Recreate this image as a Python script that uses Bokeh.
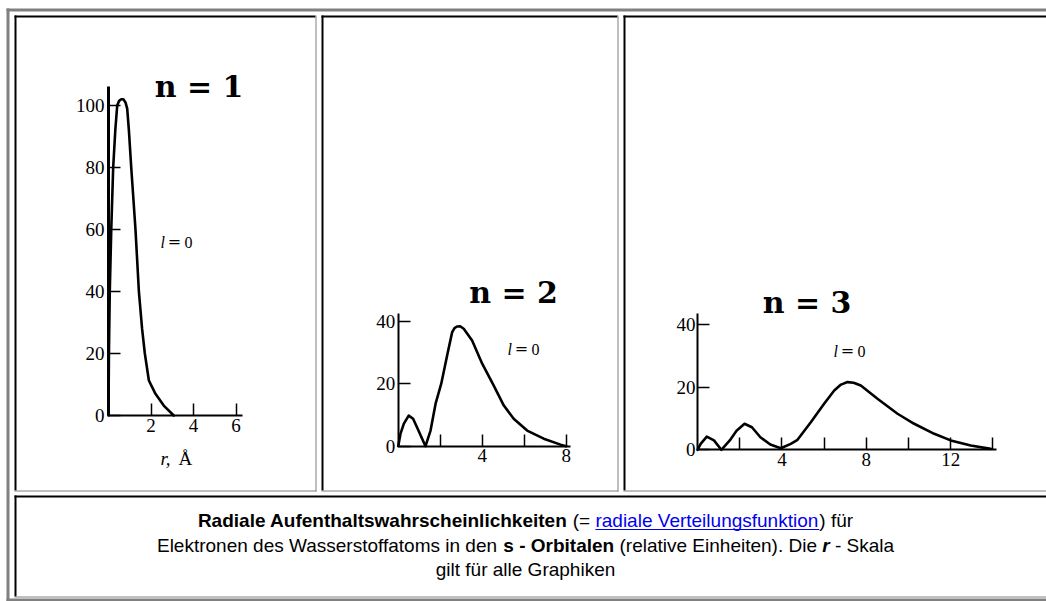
from bokeh.plotting import figure
from bokeh.models import Range1d, LinearAxis, FixedTicker
from bokeh.embed import file_html
from bokeh.resources import INLINE
from bokeh.core.properties import value

# ---------------- data ----------------
n1_r = [0.0, 0.02, 0.06, 0.13, 0.22, 0.32, 0.41, 0.5, 0.6, 0.7, 0.8, 0.88, 0.96, 1.07, 1.27, 1.43, 1.58, 1.71, 1.9, 2.21, 2.6, 3.07]
n1_p = [0, 20, 40, 60, 80, 92, 100, 101.5, 102, 102, 101, 99, 92, 80, 60, 40, 28, 20, 11.3, 7, 3.2, 0]

n2_r = [0.0, 0.11, 0.27, 0.5, 0.71, 0.9, 1.14, 1.3, 1.54, 1.78, 2.05, 2.33, 2.57, 2.68, 2.8, 2.95, 3.12, 3.52, 4.0, 4.55, 5.03, 5.5, 6.14, 6.93, 7.73, 8.0]
n2_p = [0, 4, 7.2, 9.8, 8.8, 6, 2.4, 0, 5, 13.6, 20, 29, 36.5, 37.8, 38.3, 38.4, 37.6, 33.8, 26.4, 19.4, 13, 8.8, 5, 2.4, 0.5, 0]

n3_r = [0.0, 0.15, 0.44, 0.78, 1.13, 1.53, 1.85, 2.23, 2.58, 2.98, 3.45, 3.95, 4.42, 4.74, 5.37, 6.0, 6.48, 6.8, 7.11, 7.4, 7.74, 8.53, 9.48, 10.27, 11.22, 12.0, 12.95, 13.9]
n3_p = [0, 1.9, 4.2, 3, 0, 3, 6.1, 8.3, 7.2, 4, 1.7, 0.5, 1.9, 3.2, 8.8, 14.7, 18.9, 20.8, 21.6, 21.4, 20.5, 16.3, 11.5, 8.3, 5.1, 3.0, 1.4, 0.3]

n1_xticks = [2, 4, 6]
n1_xlabels = ["2", "4", "6"]
n1_yticks = [0, 20, 40, 60, 80, 100]
n2_xticks = [2, 4, 6, 8]
n2_xlabels = ["", "4", "", "8"]
n2_yticks = [0, 20, 40]
n3_xticks = [2, 4, 6, 8, 10, 12, 14]
n3_xlabels = ["", "4", "", "8", "", "12", ""]
n3_yticks = [0, 20, 40]

titles = ["n = 1", "n = 2", "n = 3"]
l_label = ["l", "=", "0"]
x_axis_label = ["r,", "Å"]

caption_lines = [
    [("Radiale Aufenthaltswahrscheinlichkeiten", "b"), (" (= ", "n"),
     ("radiale Verteilungsfunktion", "link"), (") für", "n")],
    [("Elektronen des Wasserstoffatoms in den ", "n"), ("s - Orbitalen", "b"),
     (" (relative Einheiten). Die ", "n"), ("r", "bi"), (" - Skala", "n")],
    [("gilt für alle Graphiken", "n")],
]

# ---------------- layout constants ----------------
W, H = 1046, 601
OX, OY = 0, 0
GRAY = "#808080"
LINK = "#0000ee"
SERIF = "Liberation Serif"
MID = 0.36  # rendered baseline sits this many em below a 'middle' anchor

p = figure(width=W, height=H, x_range=Range1d(OX, OX + W), y_range=Range1d(OY + H, OY),
           output_backend="svg", toolbar_location=None, min_border=0,
           x_axis_type=None, y_axis_type=None)
p.outline_line_color = None
p.background_fill_color = "white"
p.border_fill_color = "white"


def band(l, r, t, b, color):
    p.quad(left=[l], right=[r], top=[t], bottom=[b], fill_color=color, line_color=None)


def label(x, baseline, txt, font, size, style="normal", align="left", color="black"):
    p.text(x=[x], y=[baseline - MID * size], text=[txt], text_font=value(font),
           text_font_style=style, text_font_size=f"{size}px", text_align=align,
           text_baseline="middle", text_color=color)


# outer table border
band(6, W, 8, 11, GRAY)
band(6, 9, 8, 601, GRAY)
band(6, W, 598, 601, GRAY)
# chart cells
for l, r in [(14, 315), (321, 617), (623, W)]:
    band(l, r, 15, 17, "black")
    band(l, l + 2, 15, 490, "black")
    band(r, r + 1, 15, 491, GRAY)
    band(l, r + 1, 490, 491, GRAY)
# caption cell
band(14, W, 495, 497, "black")
band(14, 16, 495, 596, "black")
band(14, W, 596, 597, GRAY)

# ---------------- charts ----------------
charts = [
    dict(name="c1", x0=108.0, ppx=21.25, y0=415.0, ppy=3.1, xmax=6.3, ymax=106,
         r=n1_r, pr=n1_p, xt=n1_xticks, xl=n1_xlabels, yt=n1_yticks, ylw=3,
         title=(198.5, 97), lpos=(160, 248), axlabel=(160, 465), ystand=4),
    dict(name="c2", x0=397.7, ppx=21.0, y0=445.7, ppy=3.125, xmax=8.2, ymax=42.5,
         r=n2_r, pr=n2_p, xt=n2_xticks, xl=n2_xlabels, yt=n2_yticks, ylw=2,
         title=(513, 303), lpos=(507, 355), axlabel=None, ystand=3),
    dict(name="c3", x0=697.0, ppx=21.1, y0=449.3, ppy=3.135, xmax=14.15, ymax=43.5,
         r=n3_r, pr=n3_p, xt=n3_xticks, xl=n3_xlabels, yt=n3_yticks, ylw=2,
         title=(806.5, 313), lpos=(833, 357), axlabel=None, ystand=2),
]

for i, c in enumerate(charts):
    nm = c["name"]
    p.extra_x_ranges[nm] = Range1d((OX - c["x0"]) / c["ppx"], (OX + W - c["x0"]) / c["ppx"])
    p.extra_y_ranges[nm] = Range1d((c["y0"] - (OY + H)) / c["ppy"], (c["y0"] - OY) / c["ppy"])

    xa = LinearAxis(x_range_name=nm, y_range_name=nm, fixed_location=0,
                    bounds=(0, c["xmax"]), ticker=FixedTicker(ticks=c["xt"]),
                    major_label_overrides={float(t): s for t, s in zip(c["xt"], c["xl"])})
    ya = LinearAxis(x_range_name=nm, y_range_name=nm, fixed_location=0,
                    bounds=(0, c["ymax"]), ticker=FixedTicker(ticks=c["yt"]))
    for ax, lw in ((xa, 2), (ya, c["ylw"])):
        ax.axis_line_width = lw
        ax.axis_line_color = "black"
        ax.major_tick_in = 12
        ax.major_tick_out = 0
        ax.minor_tick_in = 0
        ax.minor_tick_out = 0
        ax.major_tick_line_width = 1.5
        ax.major_tick_line_color = "black"
        ax.major_label_text_font = SERIF
        ax.major_label_text_font_size = "19px"
        ax.major_label_text_color = "black"
    xa.major_label_standoff = 3
    ya.major_label_standoff = c["ystand"]
    p.add_layout(xa, "below")
    p.add_layout(ya, "left")

    p.line(c["r"], c["pr"], x_range_name=nm, y_range_name=nm,
           line_color="black", line_width=2.6, line_join="round", line_cap="round")

    tx, ty = c["title"]
    label(tx, ty, titles[i], "DejaVu Serif", 30, style="bold", align="center")

    lx, ly = c["lpos"]
    label(lx, ly, l_label[0], SERIF, 16, style="italic")
    label(lx + 14, ly - 1, l_label[1], "DejaVu Serif", 16, align="center")
    label(lx + 24, ly, l_label[2], SERIF, 16)

    if c["axlabel"]:
        ax_x, ax_y = c["axlabel"]
        label(ax_x, ax_y, x_axis_label[0], SERIF, 19, style="italic")
        label(ax_x + 18, ax_y, x_axis_label[1], SERIF, 19)

# ---------------- caption ----------------
REG = {' ': 278, '(': 333, ')': 333, '=': 584, '-': 333, '.': 278,
       'a': 556, 'b': 556, 'c': 500, 'd': 556, 'e': 556, 'f': 278, 'g': 556, 'h': 556,
       'i': 222, 'j': 222, 'k': 500, 'l': 222, 'm': 833, 'n': 556, 'o': 556, 'p': 556,
       'q': 556, 'r': 333, 's': 500, 't': 278, 'u': 556, 'v': 500, 'w': 722, 'x': 500,
       'y': 500, 'z': 500, 'ü': 556, 'D': 722, 'E': 667, 'G': 778, 'S': 667, 'V': 667, 'W': 944}
BOLD = {' ': 278, '-': 333, 'A': 722, 'O': 778, 'R': 722, 'a': 556, 'b': 611, 'c': 556,
        'd': 611, 'e': 556, 'f': 333, 'h': 611, 'i': 278, 'k': 556, 'l': 278, 'n': 611,
        'r': 389, 's': 556, 't': 333, 'u': 611, 'w': 778}
FS = 19


def seg_width(s, st):
    tbl = BOLD if st in ("b", "bi") else REG
    return sum(tbl.get(ch, 556) for ch in s) * FS / 1000.0


CX = 525.0
baselines = [527, 551.5, 576]
styles = {"n": ("normal", "black"), "b": ("bold", "black"), "bi": ("bold italic", "black"),
          "link": ("normal", LINK)}
groups = {k: dict(x=[], y=[], text=[]) for k in styles}
underlines = []
for line, yb in zip(caption_lines, baselines):
    total = sum(seg_width(s, st) for s, st in line)
    x = CX - total / 2.0
    for s, st in line:
        lead = len(s) - len(s.lstrip(" "))
        txt = s.strip(" ")
        xs = x + lead * 278 * FS / 1000.0
        groups[st]["x"].append(xs)
        groups[st]["y"].append(yb - MID * FS)
        groups[st]["text"].append(txt)
        if st == "link":
            underlines.append((xs, xs + seg_width(txt, st), yb + 2))
        x += seg_width(s, st)

for k, g in groups.items():
    if not g["text"]:
        continue
    fst, col = styles[k]
    p.text(x=g["x"], y=g["y"], text=g["text"], text_font=value("Liberation Sans"),
           text_font_style=fst, text_font_size=f"{FS}px", text_align="left",
           text_baseline="middle", text_color=col)
for x0, x1, yu in underlines:
    p.segment(x0=[x0], y0=[yu], x1=[x1], y1=[yu], line_color=LINK, line_width=1)

open("out.html", "w").write(file_html(p, INLINE, "Radiale Aufenthaltswahrscheinlichkeiten"))
